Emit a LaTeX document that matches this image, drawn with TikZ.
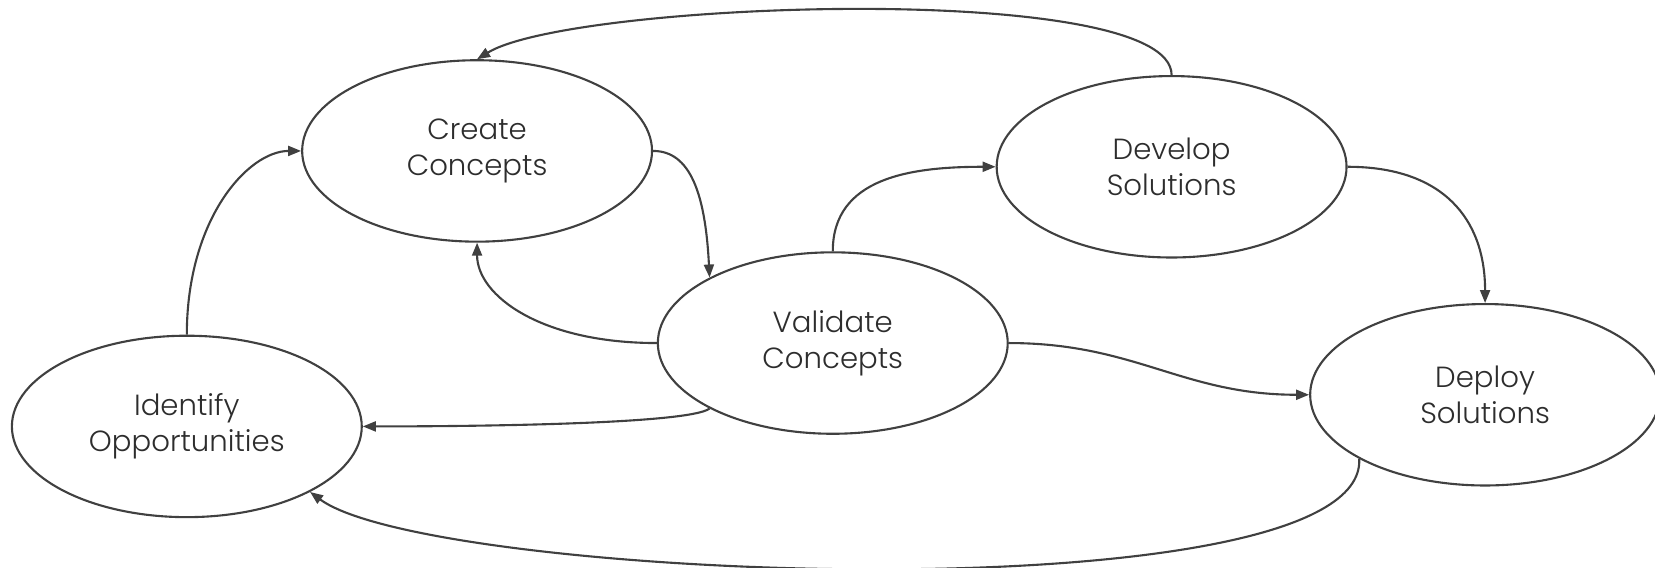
\documentclass[tikz,border=0pt]{standalone}
\usepackage{fontspec}
\setmainfont{Poppins}[UprightFont=* Light]
\usetikzlibrary{arrows.meta,shapes.geometric}

\definecolor{linegray}{RGB}{64,64,64}
\definecolor{textgray}{RGB}{45,45,45}

\begin{document}
\begin{tikzpicture}[x=0.010555cm,y=-0.010555cm,
    stage/.style={draw=linegray,line width=0.6pt,ellipse,
        minimum width=3.5cm,minimum height=1.815cm,inner sep=0pt,
        align=center,text=textgray,font=\fontsize{8.3}{10.2}\selectfont},
    flow/.style={draw=linegray,line width=0.6pt,
        -{Triangle[length=1.3mm,width=1mm]}}]

    \useasboundingbox (0,0) rectangle (1568,538);

    % the five stages
    \node[stage] (create)   at (452,143)  {Create\\Concepts};
    \node[stage] (develop)  at (1110,158) {Develop\\Solutions};
    \node[stage] (validate) at (789,325)  {Validate\\Concepts};
    \node[stage] (identify) at (177,404)  {Identify\\Opportunities};
    \node[stage] (deploy)   at (1407,374) {Deploy\\Solutions};

    % forward flow
    \draw[flow] (identify.north) .. controls +(0,-110) and +(-50,0) .. (create.west);
    \draw[flow] (create.east) .. controls +(35,0) and +(-4,-80) .. (validate.152);
    \draw[flow] (validate.north) .. controls +(0,-70) and +(-80,0) .. (develop.west);
    \draw[flow] (develop.east) .. controls +(90,0) and +(0,-80) .. (deploy.north);
    \draw[flow] (validate.east) .. controls +(120,0) and +(-120,0) .. (deploy.west);

    % feedback loops
    \draw[flow] (validate.west) .. controls +(-110,0) and +(0,50) .. (create.south);
    \draw[flow] (validate.208) .. controls +(-20,15) and +(100,0) .. (identify.east);
    \draw[flow] (develop.north) .. controls +(0,-90) and +(90,-55) .. (create.north);
    \draw[flow] (deploy.207) .. controls +(8,150) and +(115,85) .. (identify.332);
\end{tikzpicture}
\end{document}
